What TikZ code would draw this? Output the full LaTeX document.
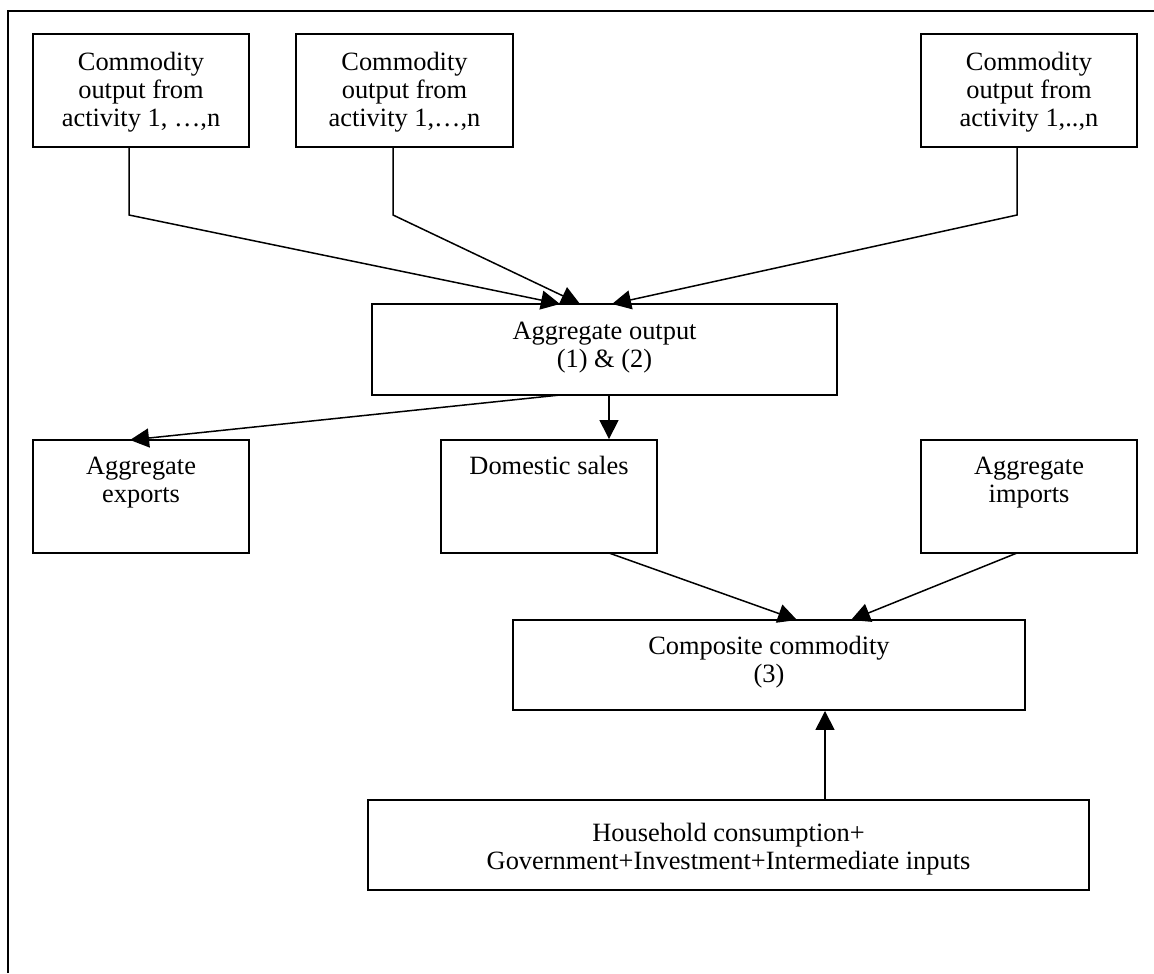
\documentclass[tikz,border=0pt]{standalone}
\usepackage{fontspec}
\setmainfont{Liberation Serif}
\usetikzlibrary{arrows.meta}
\begin{document}
\begin{tikzpicture}[x=0.5pt,y=-0.5pt,
  box/.style={draw, line width=0.95pt, inner sep=0pt},
  txt/.style={anchor=north, inner sep=0pt, align=center, font=\fontsize{13.2}{14}\selectfont},
  arr/.style={line width=0.75pt, -{Triangle[length=9.5pt,width=9.5pt]}}]
\useasboundingbox (0,0) rectangle (1154,973);
% frame (open on the right and bottom)
\draw[line width=1pt] (8,973) -- (8,11) -- (1154,11);
% top boxes
\node[box, minimum width=108pt, minimum height=56.5pt] (c1) at (141,90.5) {};
\node[box, minimum width=108.5pt, minimum height=56.5pt] (c2) at (404.5,90.5) {};
\node[box, minimum width=108pt, minimum height=56.5pt] (c3) at (1029,90.5) {};
\node[txt] (c1t) at ([yshift=-8.8pt]c1.north) {\strut Commodity\\output from\\activity 1, …,n};
\node[txt] (c2t) at ([yshift=-8.8pt]c2.north) {\strut Commodity\\output from\\activity 1,…,n};
\node[txt] (c3t) at ([yshift=-8.8pt]c3.north) {\strut Commodity\\output from\\activity 1,..,n};
% aggregate output
\node[box, minimum width=232.5pt, minimum height=45.5pt] (ao) at (604.5,349.5) {};
\node[txt] (aot) at ([yshift=-8.3pt]ao.north) {\strut Aggregate output\\(1) \& (2)};
% middle row
\node[box, minimum width=108pt, minimum height=56.5pt] (ex) at (141,496.5) {};
\node[box, minimum width=108pt, minimum height=56.5pt] (ds) at (549,496.5) {};
\node[box, minimum width=108pt, minimum height=56.5pt] (im) at (1029,496.5) {};
\node[txt] (ext) at ([yshift=-7.8pt]ex.north) {\strut Aggregate\\exports};
\node[txt] (dst) at ([yshift=-7.8pt]ds.north) {\strut Domestic sales};
\node[txt] (imt) at ([yshift=-7.8pt]im.north) {\strut Aggregate\\imports};
% composite
\node[box, minimum width=256pt, minimum height=45pt] (cc) at (769,665) {};
\node[txt] (cct) at ([yshift=-7.8pt]cc.north) {\strut Composite commodity\\(3)};
% household
\node[box, minimum width=360.5pt, minimum height=45pt] (hh) at (728.5,845) {};
\node[txt] (hht) at ([yshift=-11pt]hh.north) {\strut Household consumption+\\Government+Investment+Intermediate inputs};
% bend points and arrow tips
\coordinate (k1) at (129,215);
\coordinate (k2) at (393,215);
\coordinate (k3) at (1017,215);
\coordinate (t1) at (560,304);
\coordinate (t2) at (580,304);
\coordinate (t3) at (612,304);
\coordinate (s4) at (560,395);
\coordinate (t4) at (130,440);
\coordinate (s5) at (609,395);
\coordinate (s6) at (609,553);
\coordinate (t6) at (797,620);
\coordinate (s7) at (1017,553);
\coordinate (t7) at (851,620);
\coordinate (s8) at (825,800);
% connectors
\draw[arr] (c1.south -| k1) -- (k1) -- (t1);
\draw[arr] (c2.south -| k2) -- (k2) -- (t2);
\draw[arr] (c3.south -| k3) -- (k3) -- (t3);
\draw[arr] (s4) -- (t4);
\draw[arr] (s5) -- (ds.north -| s5);
\draw[arr] (s6) -- (t6);
\draw[arr] (s7) -- (t7);
\draw[arr] (s8) -- (cc.south -| s8);
\end{tikzpicture}
\end{document}
